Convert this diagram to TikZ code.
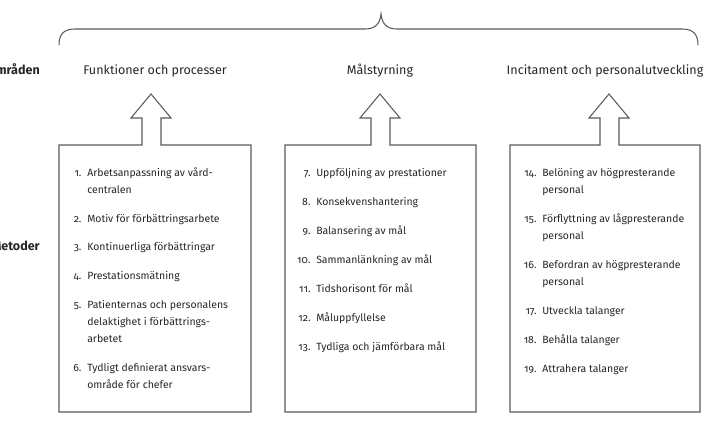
\documentclass[tikz,border=0pt]{standalone}
\usepackage{fontspec}
\setmainfont{Fira Sans}[Numbers=OldStyle]
\definecolor{linegray}{HTML}{5A5A5A}
\definecolor{textgray}{HTML}{262626}
\tikzset{
  frame/.style={draw=linegray, line width=0.8pt, line join=miter},
  head/.style={anchor=base, inner sep=0pt, text=textgray, font=\fontsize{9.4}{11}\selectfont},
  side/.style={anchor=base east, inner sep=0pt, text=textgray, font=\fontsize{9.4}{11}\selectfont\bfseries},
  itm/.style={anchor=base west, align=left, inner sep=0pt, text=textgray, font=\fontsize{7.85}{12.75}\selectfont},
}
\newcommand{\nr}[1]{\llap{#1.\hspace{0.55em}}}
\begin{document}
\begin{tikzpicture}[x=0.75pt,y=-0.75pt]
 \useasboundingbox (0,0) rectangle (707,422);
 \clip (0,0) rectangle (707,422);
 % brace over the three areas
 \draw[frame] (59,45) .. controls (59,34) and (64,29) .. (75,29) -- (365,29)
   .. controls (375,29) and (380,24) .. (381,14)
   .. controls (382,24) and (387,29) .. (397,29) -- (682,29)
   .. controls (693,29) and (698,34) .. (698,45);
 % row labels
 \node[side] (omr) at (40,74) {Områden};
 \node[side] (met) at (40,250) {Metoder};
 % areas
 \node[head] (h1) at (155,74) {Funktioner och processer};
 \node[head] (h2) at (380,74) {Målstyrning};
 \node[head] (h3) at (605,74) {Incitament och personalutveckling};
 % boxes with block arrows
 \draw[frame] (142,145) -- (59,145) -- (59,412) -- (251,412) -- (251,145) -- (161,145)
   -- (161,118) -- (171,118) -- (151,94) -- (131,118) -- (142,118) -- cycle;
 \draw[frame] (371,145) -- (285,145) -- (285,412) -- (476,412) -- (476,145) -- (390,145)
   -- (390,118) -- (400,118) -- (380,94) -- (360,118) -- (371,118) -- cycle;
 \draw[frame] (600,145) -- (510,145) -- (510,412) -- (700,412) -- (700,145) -- (619,145)
   -- (619,118) -- (629,118) -- (609,94) -- (589,118) -- (600,118) -- cycle;
 % methods, box 1 (base = last line)
 \node[itm] (m1) at (87,193) {\nr{1}Arbetsanpassning av vård-\\centralen};
 \node[itm] (m2) at (87,222) {\nr{2}Motiv för förbättringsarbete};
 \node[itm] (m3) at (87,250) {\nr{3}Kontinuerliga förbättringar};
 \node[itm] (m4) at (87,279) {\nr{4}Prestationsmätning};
 \node[itm] (m5) at (87,342) {\nr{5}Patienternas och personalens\\delaktighet i förbättrings-\\arbetet};
 \node[itm] (m6) at (87,388) {\nr{6}Tydligt definierat ansvars-\\område för chefer};
 % methods, box 2
 \node[itm] (m7) at (316,176) {\nr{7}Uppföljning av prestationer};
 \node[itm] (m8) at (316,205) {\nr{8}Konsekvenshantering};
 \node[itm] (m9) at (316,234) {\nr{9}Balansering av mål};
 \node[itm] (m10) at (316,263) {\nr{10}Sammanlänkning av mål};
 \node[itm] (m11) at (316,292) {\nr{11}Tidshorisont för mål};
 \node[itm] (m12) at (316,321) {\nr{12}Måluppfyllelse};
 \node[itm] (m13) at (316,350) {\nr{13}Tydliga och jämförbara mål};
 % methods, box 3
 \node[itm] (m14) at (542,193) {\nr{14}Belöning av högpresterande\\personal};
 \node[itm] (m15) at (542,239) {\nr{15}Förflyttning av lågpresterande\\personal};
 \node[itm] (m16) at (542,285) {\nr{16}Befordran av högpresterande\\personal};
 \node[itm] (m17) at (542,314) {\nr{17}Utveckla talanger};
 \node[itm] (m18) at (542,343) {\nr{18}Behålla talanger};
 \node[itm] (m19) at (542,372) {\nr{19}Attrahera talanger};
\end{tikzpicture}
\end{document}
